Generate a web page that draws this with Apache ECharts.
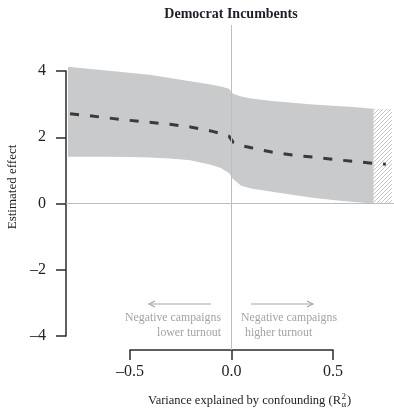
<!DOCTYPE html>
<html>
<head>
<meta charset="utf-8">
<script src="https://cdn.jsdelivr.net/npm/echarts@6/dist/echarts.min.js"></script>
<style>
  html, body { margin: 0; padding: 0; background: #fff; }
  #chart { width: 394px; height: 411px; }
</style>
</head>
<body>
<div id="chart"></div>
<script>
// Sensitivity of the estimated effect to unobserved confounding
const bandX   = [-0.8, -0.7, -0.6, -0.5, -0.4, -0.3, -0.2, -0.1, -0.05, -0.01, 0.01, 0.05, 0.1, 0.2, 0.3, 0.4, 0.5, 0.6, 0.7];
const bandUpper = [4.14, 4.08, 4.02, 3.96, 3.90, 3.80, 3.70, 3.60, 3.54, 3.47, 3.32, 3.24, 3.18, 3.10, 3.05, 3.00, 2.96, 2.92, 2.87];
const bandLower = [1.42, 1.42, 1.42, 1.41, 1.40, 1.37, 1.31, 1.18, 1.08, 0.93, 0.75, 0.54, 0.46, 0.36, 0.27, 0.18, 0.11, 0.05, 0.01];

const meanX = [-0.79, -0.7, -0.6, -0.5, -0.4, -0.3, -0.2, -0.1, -0.05, -0.01, 0.01, 0.05, 0.1, 0.2, 0.3, 0.4, 0.5, 0.6, 0.7, 0.76];
const meanY = [2.72, 2.66, 2.59, 2.52, 2.46, 2.40, 2.32, 2.20, 2.12, 2.04, 1.86, 1.76, 1.69, 1.56, 1.47, 1.41, 1.34, 1.28, 1.22, 1.19];

// region beyond the supported range of confounding (hatched)
const hatchRange = [0.70, 0.79];
const hatchTop = 2.86;

const yTicks = [-4, -2, 0, 2, 4];
const xTicks = [-0.5, 0.0, 0.5];

const titleText = 'Democrat Incumbents';
const yLabelText = 'Estimated effect';
const xLabelText = 'Variance explained by confounding (R';
const leftNote = ['Negative campaigns', 'lower turnout'];
const rightNote = ['Negative campaigns', 'higher turnout'];

const SERIF = '"Liberation Serif", "DejaVu Serif", serif';
const minus = s => String(s).replace('-', '\u2013');

// diagonal hatch tile
const tile = document.createElement('canvas');
tile.width = 4; tile.height = 4;
(function () {
  const c = tile.getContext('2d');
  c.strokeStyle = '#b8b8b8';
  c.lineWidth = 0.8;
  c.beginPath();
  c.moveTo(-1, 5); c.lineTo(5, -1);
  c.moveTo(-1, 1); c.lineTo(1, -1);
  c.moveTo(3, 5); c.lineTo(5, 3);
  c.stroke();
})();

const chart = echarts.init(document.getElementById('chart'), null, { renderer: 'canvas' });

const bandData = bandX.map((x, i) => [x, bandLower[i], bandUpper[i]]);

// measure the axis title so the R^2_alpha decoration sits right after it
const mctx = document.createElement('canvas').getContext('2d');
const xLabelFont = '12.5px ' + SERIF;
mctx.font = xLabelFont;
const xLabelW = mctx.measureText(xLabelText).width;
const xLabelLeft = 148;
const noteFont = '11.8px ' + SERIF;

chart.setOption({
  animation: false,
  backgroundColor: '#fff',
  grid: [
    { left: 66, right: 0, top: 25, bottom: 61 },     // plotting area
    { left: 66, width: 10, top: 71, bottom: 75 },     // y axis
    { left: 130, right: 61, top: 300, bottom: 61 }   // x axis
  ],
  xAxis: [
    { gridIndex: 0, type: 'value', min: -0.81, max: 0.80, show: false },
    { gridIndex: 1, type: 'value', min: 0, max: 1, show: false },
    {
      gridIndex: 2, type: 'value', min: -0.5, max: 0.5, interval: 0.5,
      axisLine: { show: true, lineStyle: { color: '#2b2b2b', width: 1.5 } },
      axisTick: { show: true, inside: false, length: 10, lineStyle: { color: '#2b2b2b', width: 1.5 } },
      splitLine: { show: false },
      axisLabel: {
        margin: 14, color: '#222', fontFamily: SERIF, fontSize: 16,
        formatter: v => minus(v.toFixed(1))
      }
    }
  ],
  yAxis: [
    { gridIndex: 0, type: 'value', min: -4.42, max: 5.40, show: false },
    {
      gridIndex: 1, type: 'value', min: -4, max: 4, interval: 2,
      axisLine: { show: true, lineStyle: { color: '#2b2b2b', width: 1.5 } },
      axisTick: { show: true, inside: false, length: 10, lineStyle: { color: '#2b2b2b', width: 1.5 } },
      splitLine: { show: false },
      axisLabel: {
        margin: 20, color: '#222', fontFamily: SERIF, fontSize: 16,
        formatter: v => minus(v)
      }
    },
    { gridIndex: 2, type: 'value', show: false }
  ],
  series: [
    {
      // confidence band
      type: 'custom',
      xAxisIndex: 0, yAxisIndex: 0,
      z: 1,
      data: bandData,
      encode: { x: 0, y: [1, 2] },
      renderItem: function (params, api) {
        if (params.dataIndex !== 0) return null;
        const pts = [];
        for (let i = 0; i < bandData.length; i++) pts.push(api.coord([bandData[i][0], bandData[i][2]]));
        for (let i = bandData.length - 1; i >= 0; i--) pts.push(api.coord([bandData[i][0], bandData[i][1]]));
        return { type: 'polygon', shape: { points: pts }, style: { fill: '#c9cacc' } };
      },
      silent: true
    },
    {
      // hatched region
      type: 'custom',
      xAxisIndex: 0, yAxisIndex: 0,
      z: 1,
      data: [[hatchRange[0], hatchRange[1], 0, hatchTop]],
      renderItem: function (params, api) {
        const p0 = api.coord([api.value(0), api.value(3)]);
        const p1 = api.coord([api.value(1), api.value(2)]);
        return {
          type: 'rect',
          shape: { x: p0[0], y: p0[1], width: p1[0] - p0[0], height: p1[1] - p0[1] },
          style: { fill: { image: tile, repeat: 'repeat' } }
        };
      },
      silent: true
    },
    {
      // reference lines at zero
      type: 'line',
      xAxisIndex: 0, yAxisIndex: 0,
      data: [],
      z: 2,
      markLine: {
        silent: true,
        symbol: 'none',
        label: { show: false },
        lineStyle: { color: '#bdbdbd', width: 1, type: 'solid' },
        data: [{ xAxis: 0 }, { yAxis: 0 }]
      }
    },
    {
      // point estimate
      type: 'line',
      xAxisIndex: 0, yAxisIndex: 0,
      z: 3,
      data: meanX.map((x, i) => [x, meanY[i]]),
      showSymbol: false,
      lineStyle: { color: '#3a3a3a', width: 3, type: [9, 11] },
      silent: true
    }
  ],
  graphic: [
    {
      type: 'text', x: 231, y: 14,
      style: { text: titleText, font: 'bold 14px ' + SERIF, fill: '#1e1e2a', align: 'center', verticalAlign: 'middle' }
    },
    {
      type: 'text', x: 13, y: 187, rotation: Math.PI / 2,
      style: { text: yLabelText, font: '13px ' + SERIF, fill: '#222', align: 'center', verticalAlign: 'middle' }
    },
    // annotations
    {
      type: 'text', x: 221, y: 318,
      style: { text: leftNote[0], font: noteFont, fill: '#a3a3a3', align: 'right', verticalAlign: 'middle' }
    },
    {
      type: 'text', x: 221, y: 333,
      style: { text: leftNote[1], font: noteFont, fill: '#a3a3a3', align: 'right', verticalAlign: 'middle' }
    },
    {
      type: 'text', x: 241, y: 318,
      style: { text: rightNote[0], font: noteFont, fill: '#a3a3a3', align: 'left', verticalAlign: 'middle' }
    },
    {
      type: 'text', x: 245, y: 333,
      style: { text: rightNote[1], font: noteFont, fill: '#a3a3a3', align: 'left', verticalAlign: 'middle' }
    },
    { type: 'line', shape: { x1: 211, y1: 304, x2: 149, y2: 304 }, style: { stroke: '#a8a8a8', lineWidth: 1.2 } },
    { type: 'polyline', shape: { points: [[155, 301], [149, 304], [155, 307]] }, style: { stroke: '#a8a8a8', lineWidth: 1.2, fill: null } },
    { type: 'line', shape: { x1: 251, y1: 304, x2: 313, y2: 304 }, style: { stroke: '#a8a8a8', lineWidth: 1.2 } },
    { type: 'polyline', shape: { points: [[307, 301], [313, 304], [307, 307]] }, style: { stroke: '#a8a8a8', lineWidth: 1.2, fill: null } },
    // x axis title with R^2_alpha
    {
      type: 'text', x: xLabelLeft, y: 401,
      style: { text: xLabelText, font: xLabelFont, fill: '#222', align: 'left', verticalAlign: 'middle' }
    },
    {
      type: 'text', x: xLabelLeft + xLabelW + 0.5, y: 397,
      style: { text: '2', font: '9px ' + SERIF, fill: '#222', align: 'left', verticalAlign: 'middle' }
    },
    {
      type: 'text', x: xLabelLeft + xLabelW + 0.5, y: 405,
      style: { text: '\u03b1', font: '9px ' + SERIF, fill: '#222', align: 'left', verticalAlign: 'middle' }
    },
    {
      type: 'text', x: xLabelLeft + xLabelW + 6, y: 401,
      style: { text: ')', font: xLabelFont, fill: '#222', align: 'left', verticalAlign: 'middle' }
    }
  ]
});
</script>
</body>
</html>
